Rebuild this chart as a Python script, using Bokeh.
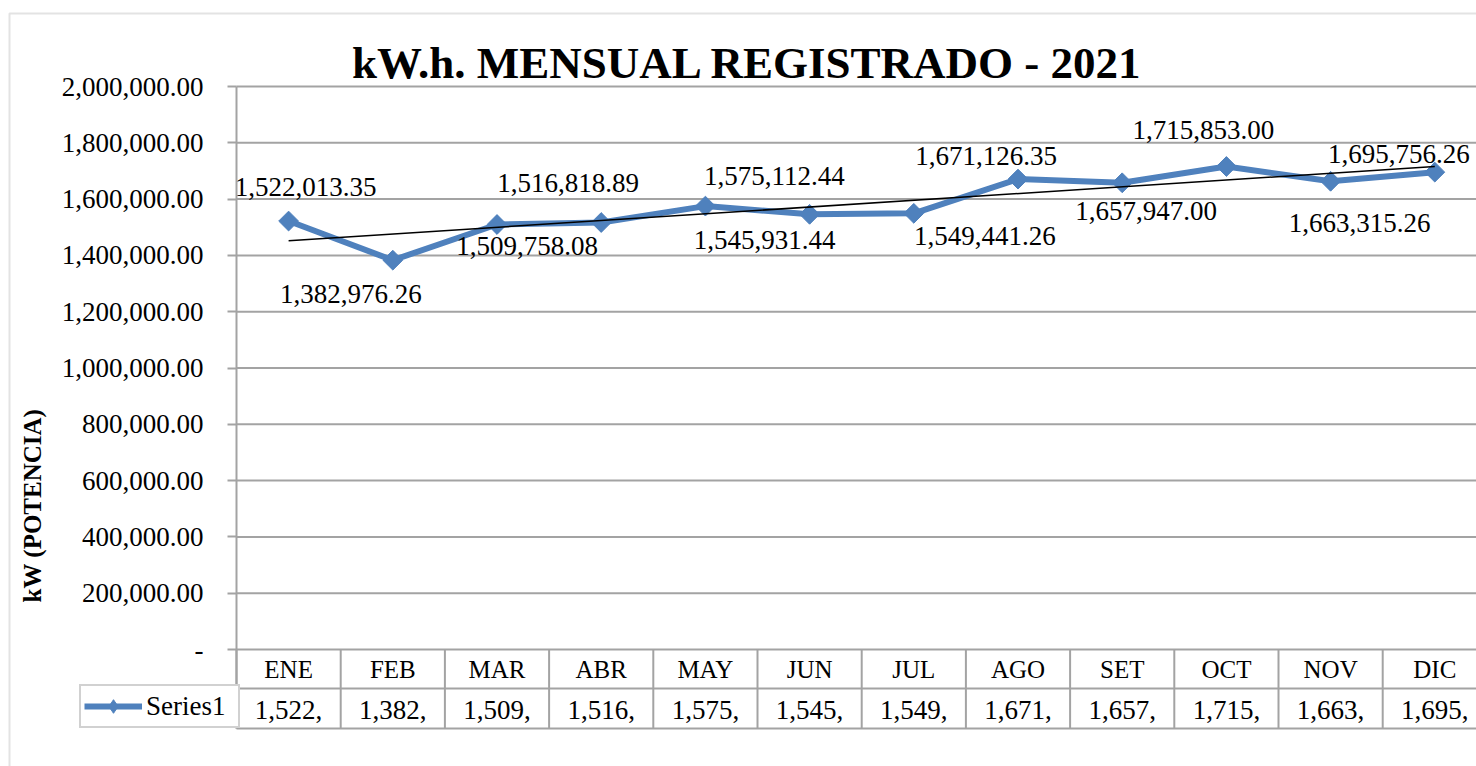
import numpy as np
from bokeh.plotting import figure
from bokeh.models import (Range1d, FixedTicker, Label, Legend, LegendItem,
                          BoxAnnotation, ColumnDataSource, LinearAxis)
from bokeh.embed import file_html
from bokeh.resources import INLINE
from bokeh.core.properties import value

# ---------------- data ----------------
months = ["ENE", "FEB", "MAR", "ABR", "MAY", "JUN", "JUL", "AGO", "SET", "OCT", "NOV", "DIC"]
kwh = [1522013.35, 1382976.26, 1509758.08, 1516818.89, 1575112.44, 1545931.44,
       1549441.26, 1671126.35, 1657947.00, 1715853.00, 1663315.26, 1695756.26]
y_ticks = [0, 200000, 400000, 600000, 800000, 1000000, 1200000, 1400000,
           1600000, 1800000, 2000000]
series_name = "Series1"
title_text = "kW.h. MENSUAL REGISTRADO - 2021"
y_title = "kW (POTENCIA)"

# ---------------- layout (pixels) ----------------
label_dx = [17, -42, 30, -33, 69, -45, 71, -32, 24, -23, 29, -36]
label_dy = [-34, 34, 21, -40, -30, 26, 23, -23, 28, -36, 42, -18]

W, H = 1476, 766
AX_PX = 236          # page x of the value axis / first category edge
ZERO_PY = 649        # page y of value 0
PX_PER_Y = 563 / 2000000
CELL = 104.2         # px per category

def X(px):
    return 0.5 + (px - AX_PX) / CELL

def Y(py):
    return (ZERO_PY - py) / PX_PER_Y

FONT = "Liberation Serif"
GRAY = "#a3a3a3"
BLUE = "#4f81bd"

x = list(range(1, len(months) + 1))

p = figure(width=W, height=H, output_backend="svg", toolbar_location=None,
           x_axis_type=None, y_axis_type=None,
           x_range=Range1d(X(0), X(W)), y_range=Range1d(Y(H), Y(0)))
p.min_border = 0
p.min_border_left = 0
p.min_border_right = 0
p.min_border_top = 0
p.min_border_bottom = 0
p.outline_line_color = None
p.background_fill_color = "white"
p.border_fill_color = "white"
p.xgrid.visible = False
p.ygrid.visible = False

# value axis at the left edge of the categories
ax = LinearAxis(fixed_location=0.5, ticker=FixedTicker(ticks=y_ticks),
                bounds=(Y(728), y_ticks[-1]))
ax.major_label_overrides = {t: (f"{t:,.2f}" if t else "-") for t in y_ticks}
ax.major_label_text_font = FONT
ax.major_label_text_font_size = "27px"
ax.major_label_text_color = "black"
ax.major_label_standoff = 24
ax.major_tick_out = 9
ax.major_tick_in = 0
ax.major_tick_line_color = GRAY
ax.major_tick_line_width = 2
ax.minor_tick_line_color = None
ax.axis_line_color = GRAY
ax.axis_line_width = 2
p.add_layout(ax, "left")

# horizontal gridlines
n_cat = len(months)
p.segment(x0=[0.5] * len(y_ticks), x1=[n_cat + 0.5] * len(y_ticks), y0=y_ticks, y1=y_ticks,
          line_color=GRAY, line_width=2)

# ---------------- data table under the plot ----------------
bounds = [i + 0.5 for i in range(0, n_cat + 1)]
p.segment(x0=bounds, x1=bounds, y0=[0] * len(bounds), y1=[Y(728)] * len(bounds),
          line_color=GRAY, line_width=2)
p.segment(x0=[0.5, 0.5], x1=[n_cat + 0.5] * 2, y0=[Y(688), Y(728)], y1=[Y(688), Y(728)],
          line_color=GRAY, line_width=2)
p.text(x=x, y=[Y(669)] * n_cat, text=months, text_align="center",
       text_baseline="middle", text_font=value(FONT), text_font_size="25px",
       text_color="black")
trunc = [f"{v:,.2f}"[:6] for v in kwh]
p.text(x=x, y=[Y(709)] * n_cat, text=trunc, text_align="center",
       text_baseline="middle", text_font=value(FONT), text_font_size="27px",
       text_color="black")

# ---------------- series ----------------
src = ColumnDataSource(dict(x=x, y=kwh, lab=[f"{v:,.2f}" for v in kwh],
                            dx=label_dx, dy=label_dy))
line_r = p.line("x", "y", source=src, line_color=BLUE, line_width=6)
dia_r = p.scatter("x", "y", source=src, marker="diamond", size=18,
                  fill_color=BLUE, line_color=BLUE)
sc_r = p.scatter("x", "y", source=src, marker="square", size=14, angle=np.pi / 4,
                 fill_color=BLUE, line_color=BLUE)

# linear trend line
coef = np.polyfit(x, kwh, 1)
tx = [x[0], x[-1]]
p.line(tx, [coef[0] * t + coef[1] for t in tx], line_color="black", line_width=1.5)

p.text("x", "y", text="lab", source=src, x_offset="dx", y_offset="dy",
       text_align="center", text_baseline="middle", text_font=value(FONT),
       text_font_size="27px", text_color="black")

# legend cell
leg = Legend(items=[LegendItem(label=series_name, renderers=[line_r, dia_r])],
             location=(79, H - 728))
leg.glyph_width = 58
leg.glyph_height = 34
leg.label_standoff = 4
leg.label_width = 89
leg.label_height = 34
leg.padding = 3
leg.margin = 0
leg.spacing = 0
leg.border_line_color = GRAY
leg.border_line_width = 2
leg.background_fill_color = "white"
leg.background_fill_alpha = 1
leg.label_text_font = FONT
leg.label_text_font_size = "27px"
leg.label_text_color = "black"
p.add_layout(leg)

# title & axis title
p.add_layout(Label(x=X(747), y=Y(62), text=title_text, text_align="center",
                   text_baseline="alphabetic", text_font=FONT, text_font_size="45px",
                   text_font_style="bold", text_color="black"))
p.add_layout(Label(x=X(32), y=Y(505), text=y_title, angle=np.pi / 2, text_align="center",
                   text_baseline="middle", text_font=FONT, text_font_size="25px",
                   text_font_style="bold", text_color="black"))

# outer chart border
p.add_layout(BoxAnnotation(left=X(9), right=X(W + 50), top=Y(13), bottom=Y(H + 50),
                           fill_color=None, line_color=GRAY, line_width=2))

open("out.html", "w").write(file_html(p, INLINE))
